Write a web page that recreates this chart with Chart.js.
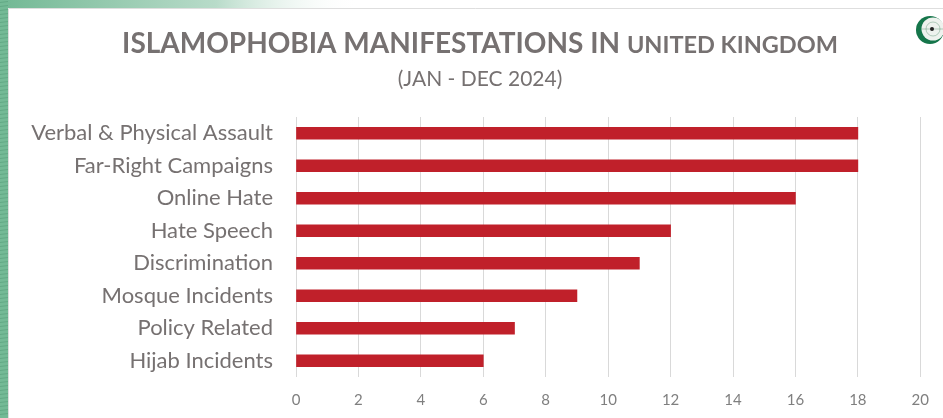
<!DOCTYPE html>
<html>
<head>
<meta charset="utf-8">
<script src="https://cdn.jsdelivr.net/npm/chart.js@4/dist/chart.umd.min.js"></script>
<style>
  body { margin: 0; background: #fff; }
  .wrap { position: relative; width: 943px; height: 418px; }
</style>
</head>
<body>
<div class="wrap"><canvas id="chart"></canvas></div>
<script>
const categories = ['Verbal & Physical Assault', 'Far-Right Campaigns', 'Online Hate', 'Hate Speech',
  'Discrimination', 'Mosque Incidents', 'Policy Related', 'Hijab Incidents']
const incidents = [18, 18, 16, 12, 11, 9, 7, 6]
const axisMax = 20
const axisStep = 2

const titleMain = 'ISLAMOPHOBIA MANIFESTATIONS IN '
const titleCountry = 'UNITED KINGDOM'
const subtitle = '(JAN - DEC 2024)'

const textGray = '#767171'
const barRed = '#c0202a'
const fontName = 'Lato, "Open Sans", sans-serif'

// slide frame: green striped edge on the left, fading band on top
const frame = {
  id: 'frame',
  beforeDraw(chart) {
    const c = chart.ctx
    const w = chart.width, h = chart.height
    c.save()
    c.fillStyle = '#fff'
    c.fillRect(0, 0, w, h)
    c.fillStyle = '#74ba96'
    c.fillRect(0, 0, 8, h)
    c.strokeStyle = '#62a985'
    c.lineWidth = 1
    for (let y = 2; y < h; y += 4) {
      c.beginPath()
      c.moveTo(0, y + 0.5)
      c.lineTo(8, y - 0.5)
      c.stroke()
    }
    const g = c.createLinearGradient(0, 0, 360, 0)
    g.addColorStop(0, '#72b894')
    g.addColorStop(0.6, 'rgba(114,184,148,0.5)')
    g.addColorStop(1, 'rgba(255,255,255,0)')
    c.fillStyle = g
    c.fillRect(8, 0, 360, 8)
    c.strokeStyle = '#dedede'
    c.beginPath()
    c.moveTo(8.5, h)
    c.lineTo(8.5, 8.5)
    c.lineTo(w, 8.5)
    c.stroke()

    // emblem in the corner
    c.fillStyle = '#15754a'
    c.beginPath(); c.arc(930, 30, 14, 0, Math.PI * 2); c.fill()
    c.fillStyle = '#eef2ee'
    c.beginPath(); c.arc(933, 29, 11.5, 0, Math.PI * 2); c.fill()
    c.strokeStyle = 'rgba(60,130,90,0.35)'
    c.beginPath(); c.arc(933, 29, 7, 0, Math.PI * 2); c.stroke()
    c.beginPath(); c.moveTo(922, 29); c.lineTo(944, 29); c.stroke()
    c.fillStyle = '#222'
    c.beginPath(); c.arc(932, 29, 2, 0, Math.PI * 2); c.fill()
    c.restore()
  }
}

// two-size heading and period line
const heading = {
  id: 'heading',
  afterDraw(chart) {
    const c = chart.ctx
    const cx = 480
    c.save()
    c.fillStyle = textGray
    c.textBaseline = 'alphabetic'
    c.textAlign = 'left'
    const bigFont = 'bold 28px ' + fontName
    const smallFont = 'bold 23.5px ' + fontName
    c.font = bigFont
    const w1 = c.measureText(titleMain).width
    c.font = smallFont
    const w2 = c.measureText(titleCountry).width
    let x = cx - (w1 + w2) / 2
    c.font = bigFont
    c.fillText(titleMain, x, 53)
    c.font = smallFont
    c.fillText(titleCountry, x + w1, 53)
    c.font = '21px ' + fontName
    c.textAlign = 'center'
    c.fillText(subtitle, cx, 86)
    c.restore()
  }
}

new Chart(document.getElementById('chart'), {
  type: 'bar',
  data: {
    labels: categories,
    datasets: [{
      data: incidents,
      backgroundColor: barRed,
      barThickness: 12
    }]
  },
  options: {
    indexAxis: 'y',
    responsive: true,
    maintainAspectRatio: false,
    animation: false,
    layout: { padding: { top: 117, right: 22, left: 0, bottom: 0 } },
    plugins: { legend: { display: false }, tooltip: { enabled: false } },
    scales: {
      x: {
        min: 0,
        max: axisMax,
        ticks: { stepSize: axisStep, color: '#7f7f7f', font: { family: fontName, size: 15 }, padding: 14 },
        grid: { color: '#d9d9d9', drawTicks: false },
        border: { display: false },
        afterFit(scale) { scale.height = 41 }
      },
      y: {
        ticks: { color: textGray, font: { family: fontName, size: 22 }, padding: 23 },
        grid: { display: false, drawTicks: false },
        border: { display: false },
        afterFit(scale) { scale.width = 296 }
      }
    }
  },
  plugins: [frame, heading]
})
</script>
</body>
</html>
